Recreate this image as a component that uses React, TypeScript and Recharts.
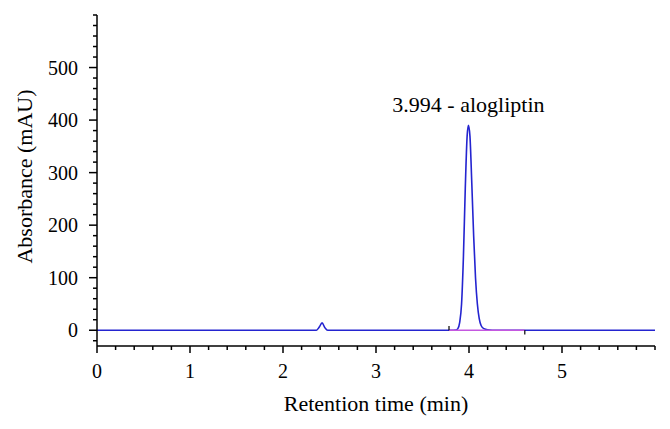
import React from 'react';
import { LineChart, Line, XAxis, YAxis, ReferenceLine, ReferenceDot } from 'recharts';

// Chromatogram trace (time in min, absorbance in mAU)
const retentionTimes = [
  0, 2.36, 2.39, 2.42, 2.45, 2.48, 3.8, 3.86, 3.88, 3.9, 3.92, 3.94, 3.96, 3.98, 3.994,
  4.01, 4.03, 4.05, 4.07, 4.09, 4.11, 4.13, 4.16, 4.2, 4.3, 6,
];
const absorbance = [
  0, 0, 6, 14, 5, 0, 0, 0.5, 3, 15, 50, 140, 270, 370, 390,
  370, 280, 180, 100, 50, 22, 9, 3, 1, 0, 0,
];

const xTicks = [
  0, 0.2, 0.4, 0.6, 0.8, 1, 1.2, 1.4, 1.6, 1.8, 2, 2.2, 2.4, 2.6, 2.8, 3, 3.2, 3.4, 3.6, 3.8,
  4, 4.2, 4.4, 4.6, 4.8, 5, 5.2, 5.4, 5.6, 5.8, 6,
];
const xLabels = [0, 1, 2, 3, 4, 5];
const yTicks = [
  -20, 0, 20, 40, 60, 80, 100, 120, 140, 160, 180, 200, 220, 240, 260, 280, 300, 320, 340, 360,
  380, 400, 420, 440, 460, 480, 500, 520, 540, 560, 580, 600,
];
const yLabels = [0, 100, 200, 300, 400, 500];

// integration start / end of the alogliptin peak
const peakStart = 3.785;
const peakEnd = 4.6;
const peakTime = 3.994;
const peakHeight = 390;

const data = retentionTimes.map((t, i) => ({ t, v: absorbance[i] }));

const FONT = 'Liberation Serif, DejaVu Serif, serif';
const tickStyle = { fontFamily: FONT, fontSize: 20 };
const titleStyle = { fontFamily: FONT, fontSize: 22 };

const XTick = (props: any) => {
  const { x, y, payload } = props;
  const major = xLabels.some((m) => Math.abs(m - payload.value) < 1e-6);
  return (
    <g>
      <line x1={x} x2={x} y1={y} y2={y + (major ? 7 : 4)} stroke="#000" strokeWidth={1.5} />
      {major && (
        <text x={x} y={y + 32} textAnchor="middle" style={tickStyle} fill="#000">
          {payload.value}
        </text>
      )}
    </g>
  );
};

const YTick = (props: any) => {
  const { x, y, payload } = props;
  const major = yLabels.includes(payload.value);
  return (
    <g>
      <line x1={x} x2={x - (major ? 8 : 4)} y1={y} y2={y} stroke="#000" strokeWidth={1.5} />
      {major && (
        <text x={x - 19} y={y + 7} textAnchor="end" style={tickStyle} fill="#000">
          {payload.value}
        </text>
      )}
    </g>
  );
};

const App = () => {
  return (
    <div style={{ width: 670, height: 429 }}>
      <style>{'body{margin:0;}'}</style>
      <LineChart width={670} height={429} data={data} margin={{ top: 15, right: 15, bottom: 0, left: 0 }}>
        <XAxis
          dataKey="t"
          type="number"
          domain={[0, 6]}
          ticks={xTicks}
          interval={0}
          tick={<XTick />}
          tickLine={false}
          tickSize={0}
          tickMargin={0}
          height={83}
          stroke="#000"
          strokeWidth={1.5}
          label={(p: any) => {
            const vb = p.viewBox;
            return (
              <text
                x={vb.x + vb.width / 2}
                y={vb.y + 65}
                textAnchor="middle"
                style={titleStyle}
                fill="#000"
              >
                Retention time (min)
              </text>
            );
          }}
        />
        <YAxis
          type="number"
          domain={[-30, 600]}
          ticks={yTicks}
          interval={0}
          tick={<YTick />}
          tickLine={false}
          tickSize={0}
          tickMargin={0}
          width={97}
          stroke="#000"
          strokeWidth={1.5}
          label={(p: any) => {
            const vb = p.viewBox;
            const cx = vb.x + 32;
            const cy = vb.y + vb.height / 2 - 4;
            return (
              <text
                x={cx}
                y={cy}
                transform={`rotate(-90 ${cx} ${cy})`}
                textAnchor="middle"
                style={titleStyle}
                fill="#000"
              >
                Absorbance (mAU)
              </text>
            );
          }}
        />
        <Line
          type="monotone"
          dataKey="v"
          stroke="#2424d0"
          strokeWidth={1.6}
          dot={false}
          isAnimationActive={false}
        />
        <ReferenceLine
          segment={[{ x: peakStart, y: 0 }, { x: peakEnd, y: 0 }]}
          stroke="#c458e0"
          strokeWidth={1.4}
        />
        <ReferenceLine
          segment={[{ x: peakStart, y: 0 }, { x: peakStart, y: 8 }]}
          stroke="#000"
          strokeWidth={1.2}
        />
        <ReferenceLine
          segment={[{ x: peakEnd, y: 0 }, { x: peakEnd, y: -8 }]}
          stroke="#000"
          strokeWidth={1.2}
        />
        <ReferenceDot
          x={peakTime}
          y={peakHeight}
          r={0}
          fill="none"
          stroke="none"
          label={{
            value: '3.994 - alogliptin',
            position: 'top',
            offset: 13,
            style: titleStyle,
            fill: '#000',
          }}
        />
      </LineChart>
    </div>
  );
};

export default App;
